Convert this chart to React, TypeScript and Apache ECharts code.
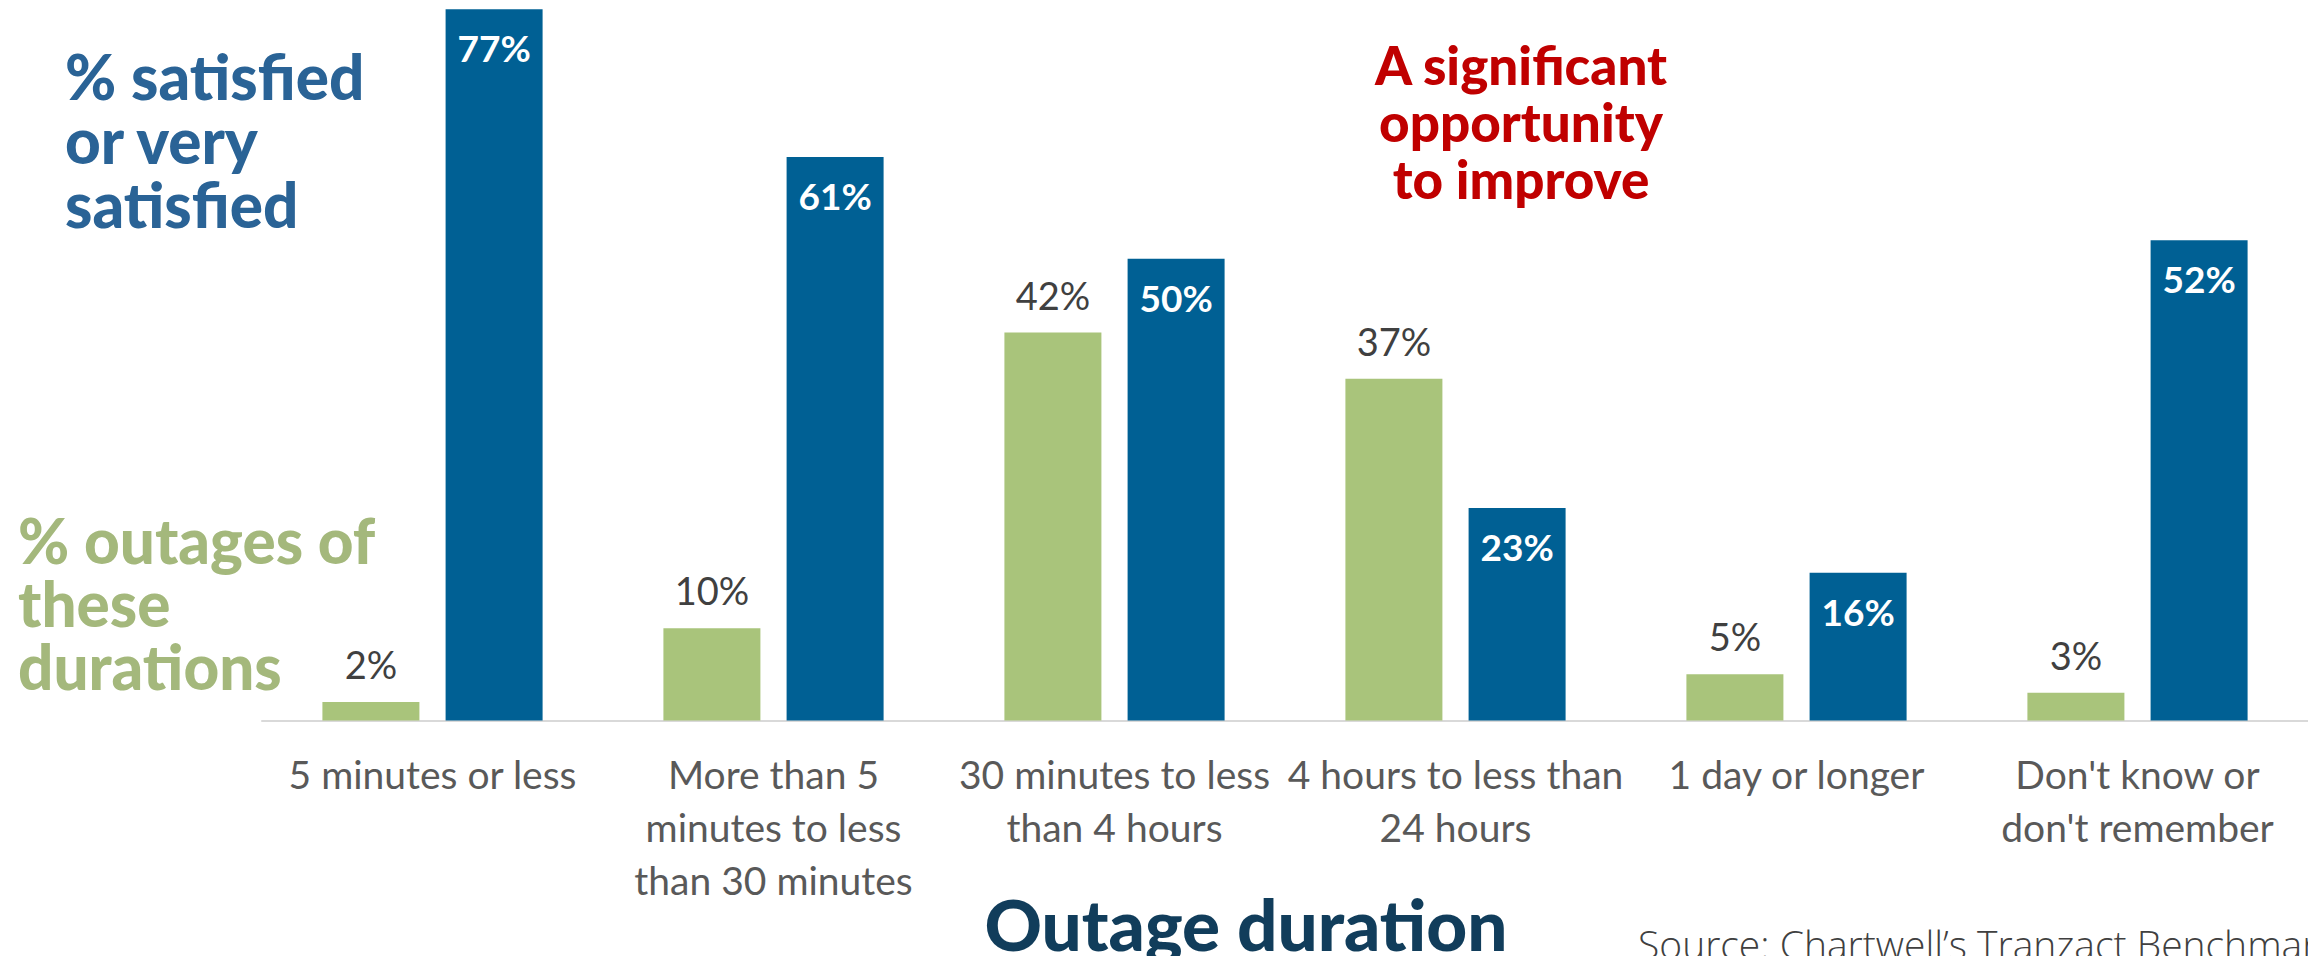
import React, { useEffect, useRef } from "react";
import * as echarts from "echarts";

// Outage duration buckets (category axis)
const categories = [
  "5 minutes or less",
  "More than 5\nminutes to less\nthan 30 minutes",
  "30 minutes to less\nthan 4 hours",
  "4 hours to less than\n24 hours",
  "1 day or longer",
  "Don't know or\ndon't remember",
];

// % of outages that fell in each duration bucket
const outageShare = [2, 10, 42, 37, 5, 3];
// % satisfied or very satisfied for each duration bucket
const satisfiedShare = [77, 61, 50, 23, 16, 52];

const satisfiedTitle = ["% satisfied", "or very", "satisfied"];
const outageTitle = ["% outages of", "these", "durations"];
const calloutLines = ["A significant", "opportunity", "to improve"];
const axisTitle = "Outage duration";
const sourceNote = "Source: Chartwell\u2019s Tranzact Benchmark";

const W = 2308;
const H = 956;

const GREEN = "#A9C47B";
const BLUE = "#006094";
const HEAD_BLUE = "#2A6396";
const HEAD_GREEN = "#A4B87C";
const RED = "#C00000";
const NAVY = "#113D5B";

// Multi-line text block positioned by the baseline of its first line
function textBlock(
  lines: string[],
  x: number,
  firstBaseline: number,
  size: number,
  lineHeight: number,
  color: string,
  weight: string | number,
  family: string,
  align: string = "left"
) {
  return {
    type: "text",
    x,
    y: firstBaseline - 0.387 * size - lineHeight / 2,
    silent: true,
    style: {
      text: lines.join("\n"),
      fill: color,
      font: `${weight} ${size}px ${family}`,
      lineHeight,
      textAlign: align,
      align,
      textVerticalAlign: "top",
      verticalAlign: "top",
    },
  };
}

export default function App() {
  const ref = useRef<HTMLDivElement>(null);

  useEffect(() => {
    if (!ref.current) return;
    const chart = echarts.init(ref.current, null, { renderer: "svg", width: W, height: H });

    const graphics: any[] = [
      textBlock(satisfiedTitle, 65, 100, 62, 64, HEAD_BLUE, 900, "Lato"),
      textBlock(outageTitle, 18, 564, 62, 63, HEAD_GREEN, 900, "Lato"),
      textBlock(calloutLines, 1521, 85, 53, 57, RED, 900, "Lato", "center"),
      textBlock([axisTitle], 1246, 951, 71, 71, NAVY, 900, "Lato", "center"),
      textBlock([sourceNote], 1638, 959, 39, 39, "#404040", 300, "'Open Sans'"),
    ];

    chart.setOption({
      animation: false,
      backgroundColor: "#ffffff",
      grid: { left: 262, top: 0, width: 2053, height: 720.5, containLabel: false },
      xAxis: {
        type: "category",
        data: categories,
        axisLine: { show: true, lineStyle: { color: "#D9D9D9", width: 2 } },
        axisTick: { show: false },
        axisLabel: {
          interval: 0,
          color: "#595959",
          fontFamily: "Lato",
          fontSize: 39,
          lineHeight: 53,
          margin: 27,
        },
      },
      yAxis: {
        type: "value",
        min: 0,
        max: 78,
        show: false,
        splitLine: { show: false },
      },
      series: [
        {
          name: "% outages of these durations",
          type: "bar",
          data: outageShare,
          barWidth: 97,
          barGap: "27%",
          itemStyle: { color: GREEN },
          label: {
            show: true,
            position: "top",
            distance: 19,
            formatter: "{c}%",
            color: "#404040",
            fontFamily: "Lato",
            fontSize: 38,
            lineHeight: 38,
          },
        },
        {
          name: "% satisfied or very satisfied",
          type: "bar",
          data: satisfiedShare,
          barWidth: 97,
          barGap: "27%",
          itemStyle: { color: BLUE },
          label: {
            show: true,
            position: "insideTop",
            distance: 20,
            formatter: "{c}%",
            color: "#ffffff",
            fontWeight: "bold",
            fontFamily: "Lato",
            fontSize: 37,
            lineHeight: 37,
          },
        },
      ],
      graphic: graphics,
    });

    return () => chart.dispose();
  }, []);

  return (
    <div
      ref={ref}
      style={{ position: "fixed", left: 0, top: 0, width: W, height: H, background: "#fff", overflow: "hidden" }}
    />
  );
}
